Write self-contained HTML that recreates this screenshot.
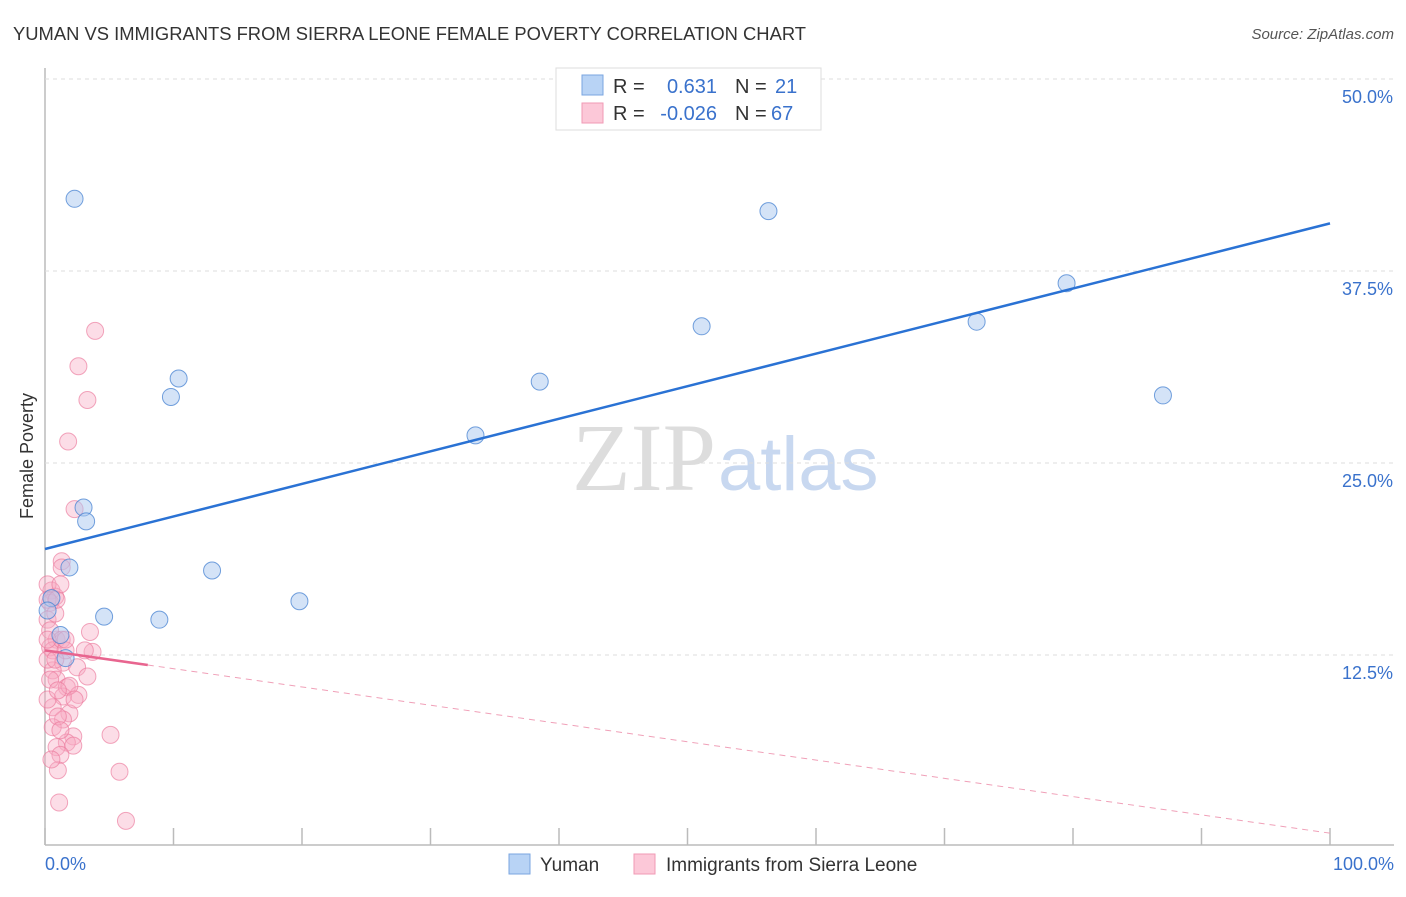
<!DOCTYPE html>
<html><head><meta charset="utf-8"><style>
body{margin:0;background:#fff;font-family:"Liberation Sans",sans-serif}
</style></head><body>
<svg id="chart" width="1406" height="892" xmlns="http://www.w3.org/2000/svg" font-family="Liberation Sans, sans-serif">
<text x="13" y="40" font-size="18" fill="#333" textLength="793" lengthAdjust="spacingAndGlyphs">YUMAN VS IMMIGRANTS FROM SIERRA LEONE FEMALE POVERTY CORRELATION CHART</text>
<text x="1394" y="39" font-size="15" fill="#555" text-anchor="end" font-style="italic">Source: ZipAtlas.com</text>
<text x="716" y="490" font-size="96" text-anchor="end" fill="#ddd" font-family="Liberation Serif, serif">ZIP</text>
<text x="718" y="490" font-size="76" fill="#c8d8f0">atlas</text>
<text transform="translate(33,456) rotate(-90)" font-size="18" fill="#333" text-anchor="middle">Female Poverty</text>
<g id="grid"></g><g id="marks"></g>
<g>
<rect x="556" y="68" width="265" height="62" fill="#fff" stroke="#ddd"/>
<rect x="582" y="75" width="21" height="20" fill="#b8d3f5" stroke="#7aa6e0"/>
<rect x="582" y="103" width="21" height="20" fill="#fcc8d8" stroke="#f09ab5"/>
<text x="613" y="93" font-size="20" fill="#333">R =</text>
<text x="717" y="93" font-size="20" fill="#3a72cc" text-anchor="end">0.631</text>
<text x="735" y="93" font-size="20" fill="#333">N =</text>
<text x="775" y="93" font-size="20" fill="#3a72cc">21</text>
<text x="613" y="120" font-size="20" fill="#333">R =</text>
<text x="717" y="120" font-size="20" fill="#3a72cc" text-anchor="end">-0.026</text>
<text x="735" y="120" font-size="20" fill="#333">N =</text>
<text x="771" y="120" font-size="20" fill="#3a72cc">67</text>
</g>
<g>
<rect x="509" y="854" width="21" height="20" fill="#b8d3f5" stroke="#7aa6e0"/>
<text x="540" y="871" font-size="19" fill="#333">Yuman</text>
<rect x="634" y="854" width="21" height="20" fill="#fcc8d8" stroke="#f09ab5"/>
<text x="666" y="871" font-size="19" fill="#333">Immigrants from Sierra Leone</text>
</g>
<text x="45" y="870" font-size="18" fill="#3a72cc">0.0%</text>
<text x="1394" y="870" font-size="18" fill="#3a72cc" text-anchor="end">100.0%</text>
</svg>
<script>
const yTicks=[12.5,25,37.5,50];
const yTickLabels=["12.5%","25.0%","37.5%","50.0%"];
const xTicks=[0,10,20,30,40,50,60,70,80,90,100];
const blueX=[2.3,56.3,79.5,51.1,72.5,10.4,9.8,38.5,87.0,33.5,3.0,3.2,1.9,13.0,19.8,4.6,8.9,0.5,1.2,1.6,0.2];
const blueY=[42.2,41.4,36.7,33.9,34.2,30.5,29.3,30.3,29.4,26.8,22.1,21.2,18.2,18.0,16.0,15.0,14.8,16.2,13.8,12.3,15.4];
const pinkX=[3.9,2.6,3.3,1.8,2.3,1.3,1.3,0.5,0.8,0.4,3.5,0.9,0.4,3.7,0.6,1.4,2.5,3.3,0.6,0.9,1.7,2.6,1.4,0.6,1.9,1.4,0.6,2.2,5.1,1.7,0.9,2.2,1.2,1.0,5.8,1.1,6.3,0.2,0.2,0.2,0.4,0.2,0.4,0.2,0.8,1.3,1.6,1.9,1.0,0.5,1.2,3.1,0.2,0.8,0.9,1.2,1.6,1.0,2.3];
const pinkY=[33.6,31.3,29.1,26.4,22.0,18.6,18.2,16.7,16.3,15.9,14.0,13.5,13.0,12.7,12.8,12.0,11.7,11.1,11.5,10.9,10.4,9.9,9.8,9.1,8.7,8.3,7.8,7.2,7.3,6.8,6.5,6.6,6.0,5.0,4.9,2.9,1.7,17.1,16.1,14.8,14.1,12.2,10.9,9.6,15.2,13.5,12.8,10.5,8.5,5.7,7.6,12.8,13.5,12.2,16.1,17.1,13.5,10.2,9.6];
const blueTrend=[19.4,40.6];
const pinkTrend=[12.8,0.9];
const pinkSolidEnd=8;
const X0=45,X1=1330,Y0=847,PPY=15.36;
const sx=v=>X0+(X1-X0)*v/100, sy=v=>Y0-v*PPY;
const NS="http://www.w3.org/2000/svg";
function mk(t,a,p){const e=document.createElementNS(NS,t);for(const k in a)e.setAttribute(k,a[k]);p.appendChild(e);return e;}
const grid=document.getElementById('grid'),marks=document.getElementById('marks');
const ax=mk('line',{x1:X0,y1:68,x2:X0,y2:845,stroke:'#bbb','stroke-width':1.5},grid);


const bx=mk('line',{x1:X0,y1:845,x2:1394,y2:845,stroke:'#bbb','stroke-width':1.5},grid);


yTicks.forEach((t,i)=>{
 const g=mk('line',{x1:X0,y1:sy(t),x2:1393,y2:sy(t),stroke:'#ddd','stroke-dasharray':'4,4'},grid);
 
 
 const l=mk('text',{x:1393,y:sy(t)+24,'font-size':18,fill:'#3a72cc','text-anchor':'end'},grid);
 l.textContent=yTickLabels[i];
 
 
});
xTicks.forEach(t=>{
 const l=mk('line',{x1:sx(t),y1:828,x2:sx(t),y2:845,stroke:'#bbb','stroke-width':1.5},grid);
 
 
});
pinkX.forEach((v,i)=>{
 const c=mk('circle',{cx:sx(v),cy:sy(pinkY[i]),r:8.5,fill:'rgba(248,170,195,0.4)',stroke:'rgba(235,120,155,0.65)','stroke-width':1},marks);
 
 
});
blueX.forEach((v,i)=>{
 const c=mk('circle',{cx:sx(v),cy:sy(blueY[i]),r:8.5,fill:'rgba(170,200,240,0.5)',stroke:'rgba(70,130,210,0.75)','stroke-width':1},marks);
 
 
});
const bl=mk('line',{x1:sx(0),y1:sy(blueTrend[0]),x2:sx(100),y2:sy(blueTrend[1]),stroke:'#2a72d4','stroke-width':2.5},marks);


const pAt=v=>pinkTrend[0]+(pinkTrend[1]-pinkTrend[0])*v/100;
const pl=mk('line',{x1:sx(0),y1:sy(pAt(0)),x2:sx(pinkSolidEnd),y2:sy(pAt(pinkSolidEnd)),stroke:'#e8658f','stroke-width':2.5},marks);


const pd=mk('line',{x1:sx(pinkSolidEnd),y1:sy(pAt(pinkSolidEnd)),x2:sx(100),y2:sy(pAt(100)),stroke:'#f0a0b8','stroke-width':1,'stroke-dasharray':'6,5'},marks);


</script>
</body></html>
